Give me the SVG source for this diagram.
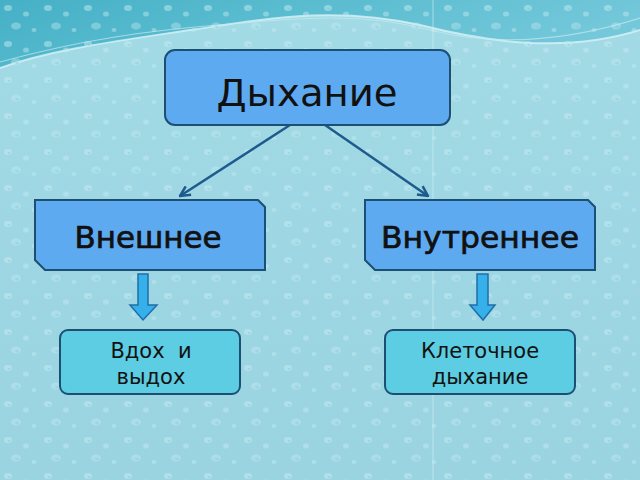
<svg xmlns="http://www.w3.org/2000/svg" width="640" height="480" viewBox="0 0 640 480">
<defs>
<linearGradient id="bg" x1="0" y1="0" x2="0" y2="1">
<stop offset="0" stop-color="#a2dae5"/>
<stop offset="1" stop-color="#9ad4e1"/>
</linearGradient>
<linearGradient id="wave" x1="0" y1="0" x2="1" y2="0.3">
<stop offset="0" stop-color="#45b0c6"/>
<stop offset="0.5" stop-color="#5cbdd0"/>
<stop offset="1" stop-color="#74c8da"/>
</linearGradient>
<pattern id="drops" width="40" height="36" patternUnits="userSpaceOnUse">
<ellipse cx="8" cy="8" rx="4" ry="3" fill="#c6ecf2" opacity="0.5"/>
<ellipse cx="26" cy="14" rx="3" ry="2.5" fill="#c6ecf2" opacity="0.45"/>
<ellipse cx="16" cy="26" rx="5" ry="3.5" fill="#c6ecf2" opacity="0.4"/>
<ellipse cx="34" cy="30" rx="2.5" ry="2" fill="#c6ecf2" opacity="0.45"/>
<ellipse cx="9" cy="9" rx="1.5" ry="1" fill="#7fc4d4" opacity="0.4"/>
<ellipse cx="17" cy="27" rx="2" ry="1.2" fill="#7fc4d4" opacity="0.35"/>
</pattern>
<marker id="open" viewBox="0 0 10 10" refX="9" refY="5" markerWidth="5" markerHeight="5" orient="auto" markerUnits="strokeWidth">
<path d="M1,1 L9,5 L1,9" fill="none" stroke="#1f5a8c" stroke-width="2"/>
</marker>
<style>
.t{font-family:"DejaVu Sans","Open Sans",sans-serif;fill:#111;text-anchor:middle}
.h2{stroke:#111;stroke-width:0.7}
.main{fill:#5eaaf0;stroke:#1d4f73;stroke-width:2}
.leaf{fill:#5ccde2;stroke:#1d4f73;stroke-width:2}
.barrow{fill:#36b0ea;stroke:#1f6ea8;stroke-width:1.5}
.conn{fill:none;stroke:#1f5a8c;stroke-width:2.5}
</style>
</defs>
<rect width="640" height="480" fill="url(#bg)"/>
<path d="M0,0 H640 V30 C560,55 480,40 420,25 C330,5 260,20 190,30 C110,42 50,50 0,68 Z" fill="url(#wave)"/>
<path d="M0,68 C50,50 110,42 190,30 C260,20 330,5 420,25 C480,40 560,55 640,30" fill="none" stroke="#d8f3f7" stroke-width="2" opacity="0.8"/>
<path d="M0,62 C80,40 150,30 230,24 C300,18 360,12 430,30 C500,48 570,40 640,18" fill="none" stroke="#c3eaf1" stroke-width="1.2" opacity="0.7"/>
<rect width="640" height="480" fill="url(#drops)"/>
<line x1="433" y1="0" x2="433" y2="480" stroke="#d5f1f5" stroke-width="1" opacity="0.6"/>

<g id="connectors">
<line class="conn" x1="290" y1="125" x2="180" y2="196" marker-end="url(#open)"/>
<line class="conn" x1="325" y1="125" x2="428" y2="196" marker-end="url(#open)"/>
<path class="barrow" d="M138,274 H148 V305 H157 L143,320 L130,305 H138 Z"/>
<path class="barrow" d="M477,274 H488 V305 H495 L483,320 L470,305 H477 Z"/>
</g>

<g id="node-breathing">
<rect class="main" x="165" y="50" width="285" height="75" rx="10"/>
<text class="t" x="307" y="106" font-size="38" textLength="181" lengthAdjust="spacingAndGlyphs">Дыхание</text>
</g>
<g id="node-external">
<path class="main" d="M35,200 H258 L265,207 V270 H45 L35,260 Z"/>
<text class="t h2" x="148" y="248" font-size="30" textLength="147" lengthAdjust="spacingAndGlyphs">Внешнее</text>
</g>
<g id="node-internal">
<path class="main" d="M365,200 H588 L595,207 V270 H375 L365,260 Z"/>
<text class="t h2" x="480" y="248" font-size="30" textLength="198" lengthAdjust="spacingAndGlyphs">Внутреннее</text>
</g>
<g id="node-inhale">
<rect class="leaf" x="60" y="330" width="180" height="64" rx="8"/>
<text class="t" x="151" y="358" font-size="21" xml:space="preserve">Вдох  и</text>
<text class="t" x="151" y="384" font-size="21">выдох</text>
</g>
<g id="node-cellular">
<rect class="leaf" x="385" y="330" width="190" height="64" rx="8"/>
<text class="t" x="480" y="358" font-size="21">Клеточное</text>
<text class="t" x="480" y="384" font-size="21">дыхание</text>
</g>
</svg>
